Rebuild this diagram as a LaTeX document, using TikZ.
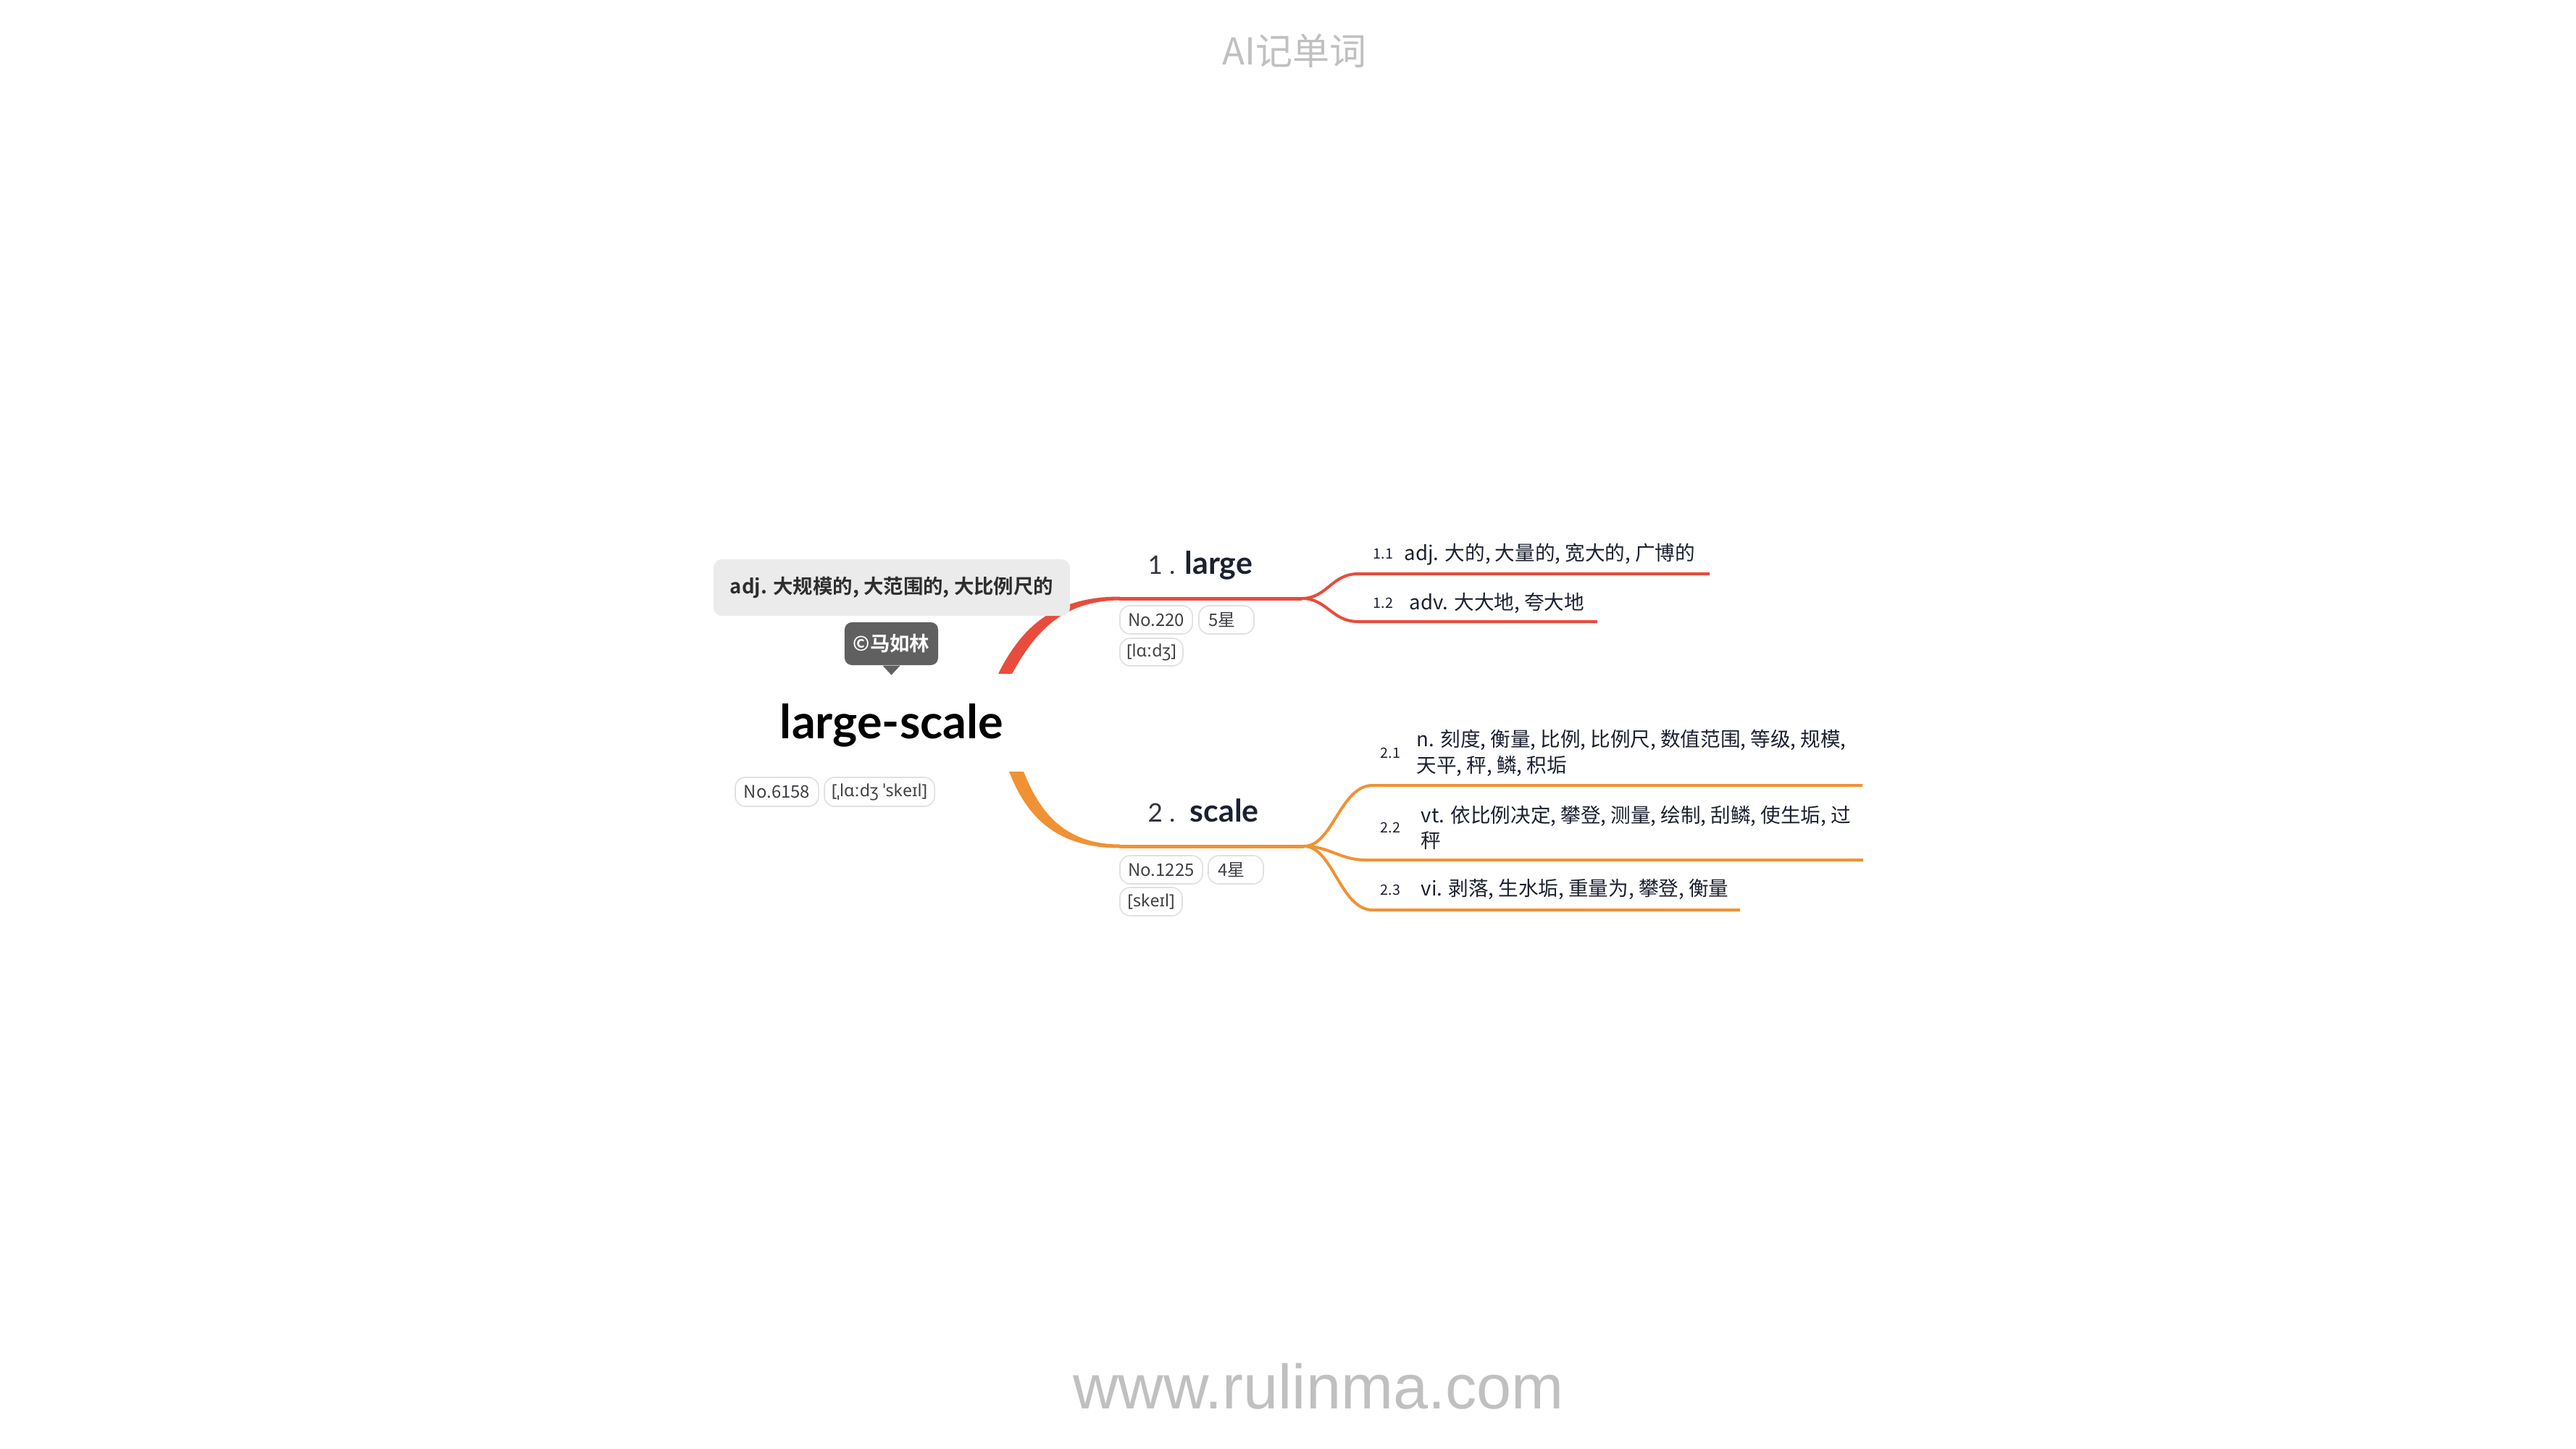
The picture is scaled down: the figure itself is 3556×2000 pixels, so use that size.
\documentclass[tikz,border=0pt]{standalone}
\usepackage{fontspec}
\setmainfont{Noto Sans CJK SC}
\newfontfamily\cjk{Noto Sans CJK SC}
\newfontfamily\cjkb{Noto Sans CJK SC Bold}
\newfontfamily\lato{Lato}
\newfontfamily\ipa{Noto Sans}
\newfontfamily\urlf{Liberation Sans}
\definecolor{redb}{RGB}{231,76,60}
\definecolor{orb}{RGB}{240,146,52}
\definecolor{ink}{RGB}{28,33,48}
\definecolor{tagtext}{RGB}{64,64,68}
\definecolor{tagline}{RGB}{224,224,224}
\definecolor{boxgray}{RGB}{235,235,235}
\definecolor{darktag}{RGB}{96,96,96}
\definecolor{wm}{RGB}{192,192,192}
\definecolor{numgray}{RGB}{50,52,60}
\tikzset{
  tagbox/.style={draw=tagline, line width=0.45pt, fill=white, rounded corners=0.14cm,
     inner sep=0pt, font=\cjk\fontsize{6.8}{8}\selectfont, text=tagtext},
  ipatag/.style={tagbox, font=\ipa\fontsize{6.6}{8}\selectfont},
  leaf/.style={inner sep=0pt, anchor=west, align=left, text=ink, font=\cjk\fontsize{7.85}{10}\selectfont},
  leafnum/.style={inner sep=0pt, anchor=west, text=ink, font=\cjk\fontsize{5.6}{7}\selectfont},
  branchnum/.style={inner sep=0pt, anchor=base west, text=numgray, font=\lato\fontsize{10}{12}\selectfont},
  branchword/.style={inner sep=0pt, anchor=base west, text=ink, font=\lato\bfseries\fontsize{12.2}{14}\selectfont},
  redline/.style={draw=redb, line width=0.04cm},
  orline/.style={draw=orb, line width=0.04cm},
}
\begin{document}
\begin{tikzpicture}[x=0.01cm,y=-0.01cm]
\fill[white] (0,0) rectangle (3556,2000);
\useasboundingbox (0,0) rectangle (3556,2000);

% coordinates of connector points
\coordinate (rs) at (1545,826);
\coordinate (s1) at (1797,826);
\coordinate (e11) at (2360,792);
\coordinate (e12) at (2205,858);
\coordinate (os) at (1545,1168);
\coordinate (s2) at (1800,1168);
\coordinate (e21) at (2571,1084);
\coordinate (e22) at (2572,1187);
\coordinate (e23) at (2402,1256);

% red branch
\fill[redb] (1378,930) .. controls (1410,866) and (1455,823.5) .. (1546,823.5)
   -- (1546,828.5) .. controls (1465,829) and (1428,874) .. (1397,930) -- cycle;
\draw[draw=redb, line width=0.05cm] (rs) -- (s1);
\draw[redline] (s1) .. controls (1832,826) and (1838,792) .. (1875,792) -- (e11);
\draw[redline] (s1) .. controls (1832,826) and (1838,858) .. (1875,858) -- (e12);

% orange branch
\fill[orb] (1393,1065) .. controls (1416,1124) and (1455,1170.5) .. (1546,1170.5)
   -- (1546,1165.5) .. controls (1465,1165.5) and (1433,1115) .. (1413,1065) -- cycle;
\draw[draw=orb, line width=0.05cm] (os) -- (s2);
\draw[orline] (s2) .. controls (1840,1168) and (1850,1084) .. (1895,1084) -- (e21);
\draw[orline] (s2) .. controls (1835,1168) and (1850,1187) .. (1885,1187) -- (e22);
\draw[orline] (s2) .. controls (1840,1168) and (1850,1256) .. (1895,1256) -- (e23);

% watermark texts
\node[text=wm, font=\cjk\fontsize{14.5}{16}\selectfont, inner sep=0pt] (title) at (1787,70) {AI记单词};
\node[text=wm, font=\urlf\fontsize{24.6}{28}\selectfont, inner sep=0pt, anchor=base] (url) at (1820,1944) {www.rulinma.com};

% central topic
\node[fill=boxgray, rounded corners=0.12cm, minimum width=4.92cm, minimum height=0.78cm, inner sep=0pt,
      text=black!82, font=\cjkb\fontsize{7.8}{10}\selectfont] (def) at (1231,811) {adj. 大规模的, 大范围的, 大比例尺的};
\node[fill=darktag, rounded corners=0.1cm, minimum width=1.29cm, minimum height=0.59cm, inner sep=0pt,
      text=white, font=\cjkb\fontsize{7.8}{9}\selectfont] (cr) at (1230.5,888.5) {©马如林};
\fill[darktag] ([xshift=-0.12cm]cr.south) -- ([xshift=0.12cm]cr.south) -- ([yshift=-0.13cm]cr.south) -- cycle;
\node[anchor=base, inner sep=0pt, text=black, font=\lato\bfseries\fontsize{18.4}{22}\selectfont] (root) at (1231,1019) {large-scale};
\node[tagbox, minimum width=1.15cm, minimum height=0.40cm] (rno) at (1072.5,1093) {No.6158};
\node[ipatag, minimum width=1.52cm, minimum height=0.40cm] (ripa) at (1214,1093) {[ˌlɑːdʒ ˈskeɪl]};

% branch 1
\node[branchnum] (k1n) at (1584,792) {1 .};
\node[branchword] (k1) at (1635,792) {large};
\node[tagbox, minimum width=1.00cm, minimum height=0.39cm] (k1no) at (1596,855.5) {No.220};
\node[tagbox, minimum width=0.76cm, minimum height=0.39cm, text width=0.5cm, align=left] (k1st) at (1693,855.5) {5星};
\node[ipatag, minimum width=0.87cm, minimum height=0.38cm] (k1ipa) at (1589.5,900) {[lɑːdʒ]};

\node[leafnum] (n11) at (1895,765) {1.1};
\node[leaf] (l11) at (1938,765) {adj. 大的, 大量的, 宽大的, 广博的};
\node[leafnum] (n12) at (1895,832) {1.2};
\node[leaf] (l12) at (1945,833) {adv. 大大地, 夸大地};

% branch 2
\node[branchnum] (k2n) at (1584,1134) {2 .};
\node[branchword] (k2) at (1642,1134) {scale};
\node[tagbox, minimum width=1.14cm, minimum height=0.39cm] (k2no) at (1603,1200.5) {No.1225};
\node[tagbox, minimum width=0.76cm, minimum height=0.39cm, text width=0.5cm, align=left] (k2st) at (1706,1200.5) {4星};
\node[ipatag, minimum width=0.86cm, minimum height=0.39cm] (k2ipa) at (1589,1244.5) {[skeɪl]};

\node[leafnum] (n21) at (1905,1039) {2.1};
\node[leaf] (l21) at (1955,1039.5) {n. 刻度, 衡量, 比例, 比例尺, 数值范围, 等级, 规模,\\天平, 秤, 鳞, 积垢};
\node[leafnum] (n22) at (1905,1142) {2.2};
\node[leaf] (l22) at (1961,1142.5) {vt. 依比例决定, 攀登, 测量, 绘制, 刮鳞, 使生垢, 过\\秤};
\node[leafnum] (n23) at (1905,1228) {2.3};
\node[leaf] (l23) at (1961,1228) {vi. 剥落, 生水垢, 重量为, 攀登, 衡量};
\end{tikzpicture}
\end{document}
